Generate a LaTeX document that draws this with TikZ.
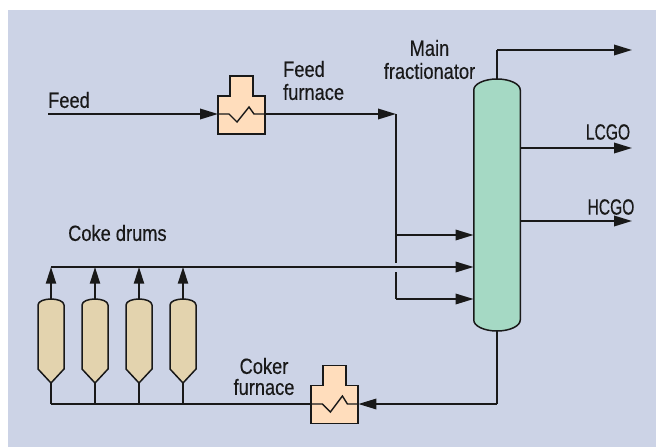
\documentclass[tikz,border=0pt]{standalone}
\usepackage{fontspec}
\setmainfont[FakeStretch=0.83,FakeBold=0.35]{Liberation Sans}
\newfontfamily\capsfont[FakeStretch=0.71,FakeBold=0.35]{Liberation Sans}
\usetikzlibrary{arrows.meta}
\definecolor{bgc}{HTML}{CCD3E6}
\definecolor{furn}{HTML}{FFDDBC}
\definecolor{colc}{HTML}{A5D9C4}
\definecolor{drum}{HTML}{E3D3AE}
\tikzset{
  x=1pt,y=-1pt,
  ln/.style={line width=1.8pt,line join=miter,black!90},
  arr/.style={ln,-{Triangle[length=18pt,width=10.5pt]}},
  up/.style={ln,-{Triangle[length=16.5pt,width=10pt]}},
  outl/.style={line width=1.5pt,black!90,line join=miter},
  coil/.style={line width=1.4pt,black!90,line join=miter},
  lab/.style={inner sep=0pt,font=\fontsize{22}{22}\selectfont,text=black!90},
}
\newcommand{\drumshape}[2]{%
  \node[inner sep=0pt,minimum width=26.5pt,minimum height=84pt] (#1) at (#2,341) {};
  \draw[outl,fill=drum] (#2-13,305) .. controls (#2-13,301) and (#2-6,299) .. (#2,299)
     .. controls (#2+6,299) and (#2+13,301) .. (#2+13,305) -- (#2+13,369) -- (#2,383) -- (#2-13,369) -- cycle;
}
\newcommand{\furnshape}[3]{%
  % name, left x, body top y
  \node[inner sep=0pt,minimum width=47pt,minimum height=38pt,anchor=north west] (#1) at (#2,#3) {};
  \draw[outl,fill=furn] (#2,#3) -- (#2+12,#3) -- (#2+12,#3-20) -- (#2+35,#3-20) -- (#2+35,#3) -- (#2+47,#3) -- (#2+47,#3+38) -- (#2,#3+38) -- cycle;
}
\begin{document}
\begin{tikzpicture}
\useasboundingbox (0,0) rectangle (656,447);
\fill[bgc] (8,10) rectangle (656,447);

% furnaces
\furnshape{ff}{218}{96}
\furnshape{cf}{311}{385.5}

% column
\node[inner sep=0pt,minimum width=46.5pt,minimum height=252pt] (col) at (497,205) {};
\draw[outl,fill=colc] (473.75,90) .. controls (473.75,84) and (484,79) .. (497,79)
  .. controls (510,79) and (520.25,84) .. (520.25,90) -- (520.25,320)
  .. controls (520.25,326) and (510,331) .. (497,331)
  .. controls (484,331) and (473.75,326) .. (473.75,320) -- cycle;

% drums
\drumshape{d1}{51}
\drumshape{d2}{95}
\drumshape{d3}{139}
\drumshape{d4}{183}

% junctions and free ends
\coordinate (feedin) at (48,114);
\coordinate (riser) at (396,114);
\coordinate (gapt) at (396,263);
\coordinate (gapb) at (396,272);
\coordinate (j1) at (396,235);
\coordinate (j3) at (396,299);
\coordinate (hdr) at (51,267);
\coordinate (btm) at (51,404);
\coordinate (colb) at (497,404);
\coordinate (topc) at (497,50);
\coordinate (topout) at (632,50);
\coordinate (lout) at (632,148);
\coordinate (hout) at (632,221);
\coordinate (lc) at (520.25,148);
\coordinate (hc) at (520.25,221);

% feed line
\draw[arr] (feedin) -- (ff.west |- feedin);
\draw[coil] (ff.west |- feedin) -- ++(11,0) -- ++(8,8) -- ++(12,-15) -- ++(5,7) -- (ff.east |- feedin);
\draw[arr] (ff.east |- feedin) -- (riser);
\draw[ln] (riser) -- (gapt);
\draw[ln] (gapb) -- (j3);
\draw[arr] (j1) -- (col.west |- j1);
\draw[arr] (j3) -- (col.west |- j3);

% coke header
\draw[arr] (hdr) -- (col.west |- hdr);
\foreach \d in {d1,d2,d3,d4}{
  \draw[up] (\d.north) -- (\d.north |- hdr);
  \draw[ln] (\d.south) -- (\d.south |- btm);
}

% bottoms
\draw[ln] (col.south) -- (colb);
\draw[arr] (colb) -- (cf.east |- colb);
\draw[coil] (cf.east |- colb) -- ++(-11,0) -- ++(-5,-8) -- ++(-12,16) -- ++(-8,-8) -- (cf.west |- colb);
\draw[ln] (cf.west |- colb) -- (btm);

% products
\draw[ln] (col.north) -- (topc);
\draw[arr] (topc) -- (topout);
\draw[arr] (lc) -- (lout);
\draw[arr] (hc) -- (hout);

% labels
\node[lab,anchor=west] (tf) at (48,100) {Feed};
\node[lab,anchor=west] (tff1) at (283,69) {Feed};
\node[lab,anchor=west] (tff2) at (283,92) {furnace};
\node[lab] (tm1) at (429.5,48) {Main};
\node[lab] (tm2) at (429.5,71) {fractionator};
\node[lab] (tl) at (608,132) {\capsfont LCGO};
\node[lab] (th) at (611,207) {\capsfont HCGO};
\node[lab,anchor=west] (tc) at (68,233) {Coke drums};
\node[lab] (tk1) at (264,366) {Coker};
\node[lab] (tk2) at (264,387) {furnace};
\end{tikzpicture}
\end{document}
